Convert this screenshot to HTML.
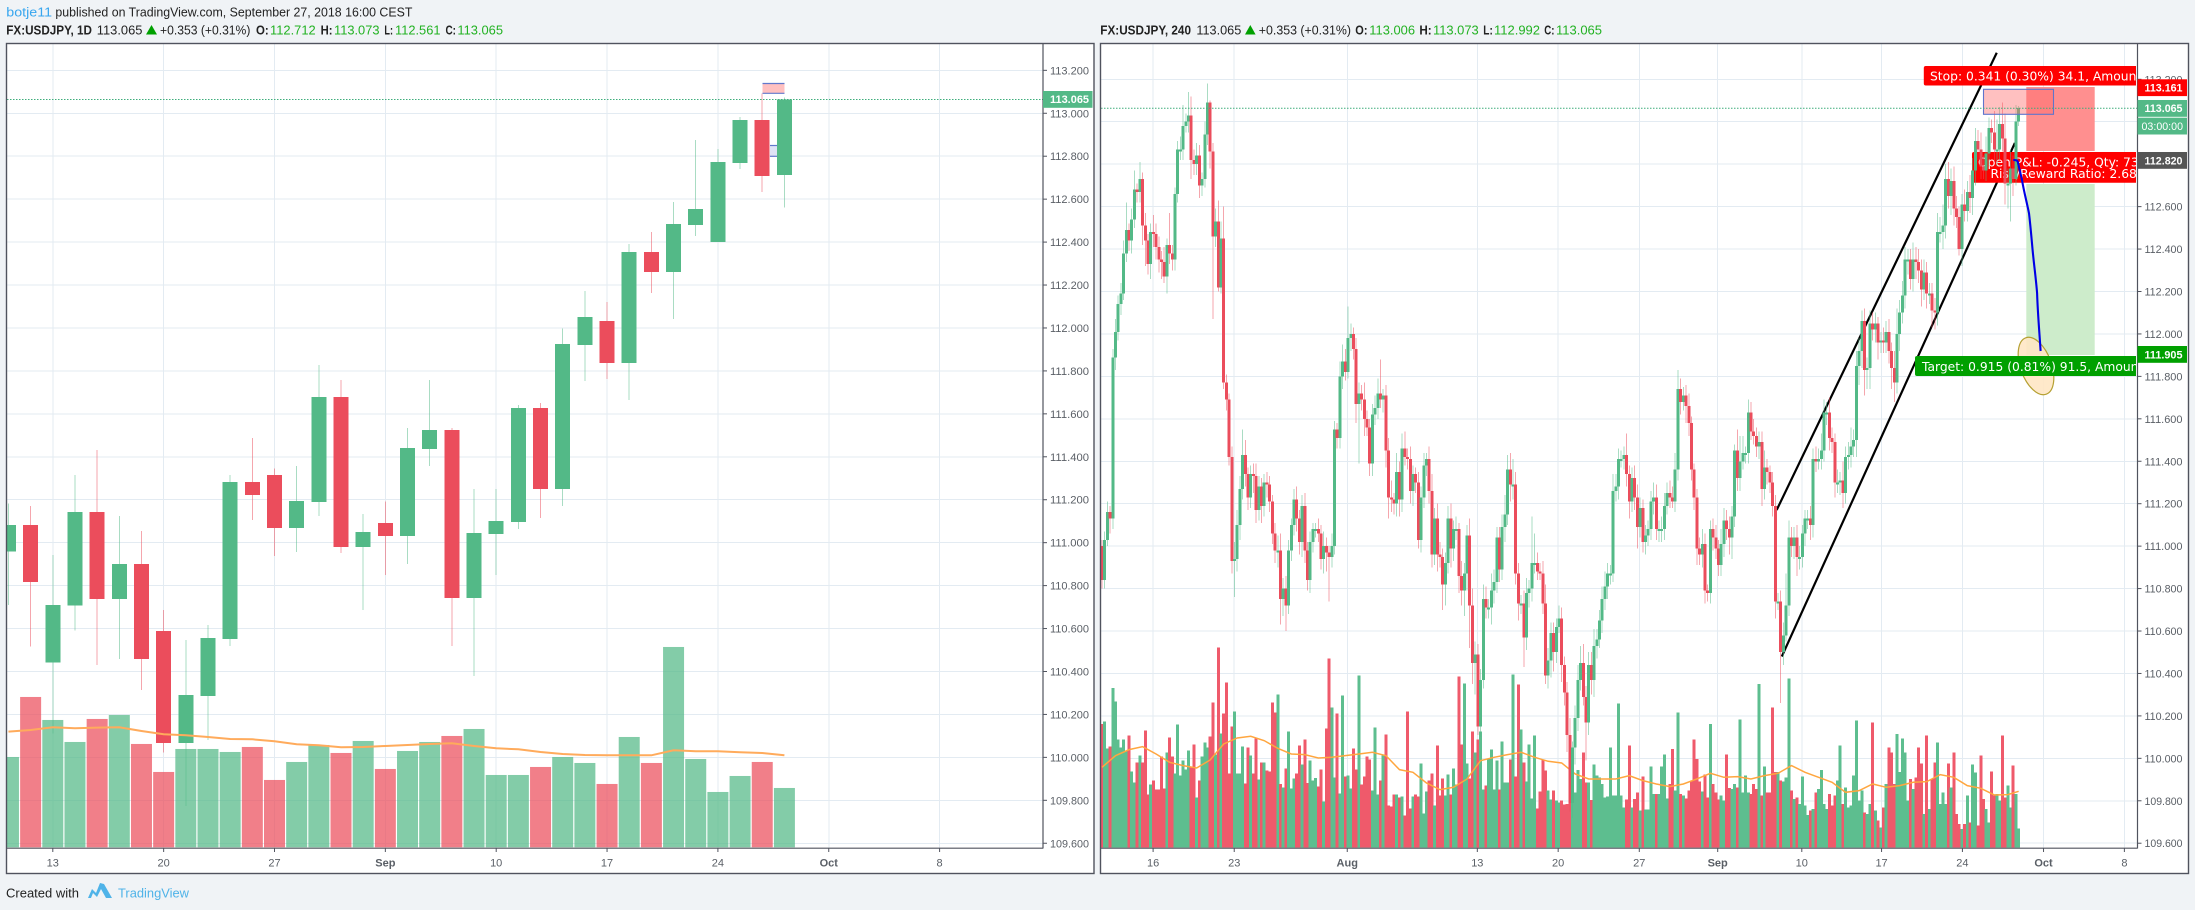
<!DOCTYPE html>
<html lang="en">
<head>
<meta charset="utf-8">
<title>USDJPY charts</title>
<style>
html,body{margin:0;padding:0;background:#f0f3f6;width:2195px;height:910px;overflow:hidden}
svg{display:block}
text{font-family:"Liberation Sans",sans-serif}
</style>
</head>
<body>
<svg id="root" xmlns="http://www.w3.org/2000/svg" width="2195" height="910" viewBox="0 0 2195 910">
<defs>
<clipPath id="clipL"><rect x="7" y="44" width="1036" height="803.5"/></clipPath>
<clipPath id="clipR"><rect x="1101" y="44" width="1036.5" height="803.5"/></clipPath>
<clipPath id="clipLabel"><rect x="1900" y="44" width="236" height="400"/></clipPath>
</defs>
<rect x="0" y="0" width="2195" height="910" fill="#f0f3f6"/>

<g font-size="13" fill="#222">
<text x="6.3" y="16.5" fill="#37a6ef" textLength="45.7" lengthAdjust="spacingAndGlyphs">botje11</text>
<text x="55.4" y="16.5" textLength="357" lengthAdjust="spacingAndGlyphs">published on TradingView.com, September 27, 2018 16:00 CEST</text>
<text x="6.3" y="34.5" font-weight="700" textLength="85.7" lengthAdjust="spacingAndGlyphs">FX:USDJPY, 1D</text>
<text x="96.8" y="34.5" textLength="45.6" lengthAdjust="spacingAndGlyphs">113.065</text>
<polygon points="146,34.5 157,34.5 151.5,25" fill="#00a000"/>
<text x="160" y="34.5" textLength="90.4" lengthAdjust="spacingAndGlyphs">+0.353 (+0.31%)</text>
<text x="256" y="34.5" font-weight="700" textLength="12.7" lengthAdjust="spacingAndGlyphs">O:</text>
<text x="270" y="34.5" fill="#22b222" textLength="45.7" lengthAdjust="spacingAndGlyphs">112.712</text>
<text x="320.6" y="34.5" font-weight="700" textLength="11.9" lengthAdjust="spacingAndGlyphs">H:</text>
<text x="334" y="34.5" fill="#22b222" textLength="45.5" lengthAdjust="spacingAndGlyphs">113.073</text>
<text x="384.4" y="34.5" font-weight="700" textLength="8.6" lengthAdjust="spacingAndGlyphs">L:</text>
<text x="395" y="34.5" fill="#22b222" textLength="45.5" lengthAdjust="spacingAndGlyphs">112.561</text>
<text x="445.5" y="34.5" font-weight="700" textLength="10.5" lengthAdjust="spacingAndGlyphs">C:</text>
<text x="457.4" y="34.5" fill="#22b222" textLength="45.6" lengthAdjust="spacingAndGlyphs">113.065</text>
</g>

<g font-size="13" fill="#222">
<text x="1100.3" y="34.5" font-weight="700" textLength="90.7" lengthAdjust="spacingAndGlyphs">FX:USDJPY, 240</text>
<text x="1196.4" y="34.5" textLength="44.9" lengthAdjust="spacingAndGlyphs">113.065</text>
<polygon points="1245,34.5 1255.6,34.5 1250.3,25" fill="#00a000"/>
<text x="1258.8" y="34.5" textLength="92.2" lengthAdjust="spacingAndGlyphs">+0.353 (+0.31%)</text>
<text x="1355.3" y="34.5" font-weight="700" textLength="12.2" lengthAdjust="spacingAndGlyphs">O:</text>
<text x="1369.3" y="34.5" fill="#22b222" textLength="45.7" lengthAdjust="spacingAndGlyphs">113.006</text>
<text x="1419.4" y="34.5" font-weight="700" textLength="12.3" lengthAdjust="spacingAndGlyphs">H:</text>
<text x="1433" y="34.5" fill="#22b222" textLength="45.7" lengthAdjust="spacingAndGlyphs">113.073</text>
<text x="1483.3" y="34.5" font-weight="700" textLength="9.5" lengthAdjust="spacingAndGlyphs">L:</text>
<text x="1494" y="34.5" fill="#22b222" textLength="46" lengthAdjust="spacingAndGlyphs">112.992</text>
<text x="1544.3" y="34.5" font-weight="700" textLength="10.2" lengthAdjust="spacingAndGlyphs">C:</text>
<text x="1556" y="34.5" fill="#22b222" textLength="46" lengthAdjust="spacingAndGlyphs">113.065</text>
</g>

<rect x="6.5" y="43.5" width="1087.5" height="830" fill="#fff"/>
<rect x="1100.5" y="43.5" width="1088" height="830" fill="#fff"/>

<g id="leftGrid" shape-rendering="crispEdges"></g>
<g id="rightGrid" shape-rendering="crispEdges"></g>

<g clip-path="url(#clipL)">
  <g id="leftVolume"></g>
  <g id="leftMarkers">
    <rect x="770" y="145.5" width="15" height="11" fill="#dfe3f6"/>
    <line x1="770" x2="785" y1="145.5" y2="145.5" stroke="#6278cc" stroke-width="1.2"/>
    <line x1="770" x2="785" y1="156.3" y2="156.3" stroke="#6278cc" stroke-width="1.2"/>
  </g>
  <g id="leftWicks" shape-rendering="crispEdges"></g>
  <g id="leftCandles" shape-rendering="crispEdges"></g>
  <polyline id="leftMA" fill="none" stroke="#ffab5c" stroke-width="2"/>
  <rect x="762.5" y="83.5" width="22" height="10" fill="#ffc0c0"/>
  <line x1="762.5" x2="784.5" y1="83.5" y2="83.5" stroke="#6278cc" stroke-width="1.2"/>
  <line x1="762.5" x2="784.5" y1="93.3" y2="93.3" stroke="#6278cc" stroke-width="1.2"/>
  <line x1="7" x2="1043" y1="99.5" y2="99.5" stroke="#3fae7c" stroke-width="1" stroke-dasharray="1.5 1.5"/>
</g>

<g clip-path="url(#clipR)">
  <g id="rightVolume" shape-rendering="crispEdges"></g>
  <polyline id="rightMA" fill="none" stroke="#ffa63f" stroke-width="1.5"/>
  <rect x="2026.3" y="87" width="68.4" height="64" fill="#ff8f8f"/>
  <rect x="2026.3" y="184" width="68.4" height="171" fill="#cdeccb"/>
  <g id="trendlines"></g>
  <ellipse cx="2036" cy="366" rx="15.5" ry="30" transform="rotate(-20 2036 366)" fill="#ffe7c4" fill-opacity=".9" stroke="#b5a032" stroke-width="1.2"/>
  <g clip-path="url(#clipLabel)">
    <rect x="1923.8" y="66" width="260" height="19.5" rx="2" fill="#f00"/>
    <text x="1930" y="80.5" fill="#fff" style='font-family:"DejaVu Sans",sans-serif' font-size="12.3">Stop: 0.341 (0.30%) 34.1, Amount: 100</text>
    <rect x="1972" y="152" width="220" height="30.7" rx="2" fill="#f00"/>
    <text x="1978" y="166.3" fill="#fff" style='font-family:"DejaVu Sans",sans-serif' font-size="12.3">Open P&amp;L: -0.245, Qty: 73</text>
    <text x="1990.5" y="178" fill="#fff" style='font-family:"DejaVu Sans",sans-serif' font-size="12.3">Risk/Reward Ratio: 2.68</text>
    <rect x="1915" y="356" width="260" height="20" rx="2" fill="#00a000"/>
    <text x="1922" y="370.8" fill="#fff" style='font-family:"DejaVu Sans",sans-serif' font-size="12.3">Target: 0.915 (0.81%) 91.5, Amount: 100</text>
  </g>
  <g id="rightWicks" shape-rendering="crispEdges"></g>
  <g id="rightCandles" shape-rendering="crispEdges"></g>
  <rect x="1983.5" y="89.3" width="70" height="25" fill="#ff6a6a" fill-opacity=".42" stroke="#5f74cc" stroke-width="1.1"/>
  <line x1="1101" x2="2137" y1="108.3" y2="108.3" stroke="#3fae7c" stroke-width="1" stroke-dasharray="1.5 1.5"/>
  <path d="M2013.3 160 C2016 160 2017 160 2017.8 161.7 C2019 168 2021 175 2022 180 C2024 192 2027 203 2029 213.3 C2030.5 226 2031.5 238 2032.6 250 C2034 265 2036 279 2037.1 293.3 C2037.8 315 2039.5 333 2040.6 351" fill="none" stroke="#0000e6" stroke-width="2.1"/>
</g>

<g id="leftAxis"></g>
<g id="rightAxis"></g>

<g font-weight="700" fill="#fff" font-size="11">
  <rect x="1043" y="91" width="49.5" height="16.8" fill="#53b987"/>
  <text x="1050" y="103.2" textLength="39" lengthAdjust="spacingAndGlyphs">113.065</text>
</g>
<g font-weight="700" fill="#fff" font-size="11">
  <rect x="2137.5" y="79.3" width="49.5" height="16.8" fill="#f00"/>
  <text x="2144.5" y="91.5" textLength="38" lengthAdjust="spacingAndGlyphs">113.161</text>
  <rect x="2137.5" y="100" width="49.5" height="16.8" fill="#53b987"/>
  <text x="2144.5" y="112.2" textLength="38" lengthAdjust="spacingAndGlyphs">113.065</text>
  <rect x="2137.5" y="117.7" width="49.5" height="16.8" fill="#53b987"/>
  <text x="2141.5" y="130" textLength="41.5" lengthAdjust="spacingAndGlyphs" font-weight="400">03:00:00</text>
  <rect x="2137.5" y="152" width="49.5" height="16.8" fill="#555"/>
  <text x="2144.5" y="164.3" textLength="38" lengthAdjust="spacingAndGlyphs">112.820</text>
  <rect x="2137.5" y="346" width="49.5" height="16.8" fill="#00a000"/>
  <text x="2144.5" y="358.3" textLength="38" lengthAdjust="spacingAndGlyphs">111.905</text>
</g>

<rect x="6.5" y="43.5" width="1087.5" height="830" fill="none" stroke="#50535e" stroke-width="1.4"/>
<rect x="1100.5" y="43.5" width="1088" height="830" fill="none" stroke="#50535e" stroke-width="1.4"/>

<g>
  <text x="6" y="897.5" font-size="13" fill="#222" textLength="73" lengthAdjust="spacingAndGlyphs">Created with</text>
  <path d="M88 898 L92 889 L96 893 L100 883 L104 884 L112 898 L106 898 L101 889 L97 897 L93 893 L91 898 Z" fill="#4fb3e8"/>
  <text x="118" y="897.5" font-size="13" fill="#4fb3e8" textLength="71" lengthAdjust="spacingAndGlyphs">TradingView</text>
</g>
</svg>

<script>
/* ---- shared axis values ---- */
const priceTicks = [113.2,113.0,112.8,112.6,112.4,112.2,112.0,111.8,111.6,111.4,111.2,111.0,110.8,110.6,110.4,110.2,110.0,109.8,109.6];

/* ---- left chart (1D) ---- */
const leftTickLabels = ["13","20","27","Sep","10","17","24","Oct","8"];
const leftTickBars = [0,5,10,15,20,25,30,35,40];
const leftFirstBar = -2;
const leftOpen = [110.958,111.082,110.441,110.707,111.143,110.738,110.901,110.589,110.068,110.286,110.552,111.283,111.315,111.068,111.189,111.678,110.98,111.092,111.031,111.436,111.525,110.742,111.04,111.096,111.627,111.25,111.921,112.032,111.837,112.354,112.261,112.48,112.4,112.768,112.969,112.712];
const leftClose = [111.082,110.817,110.71,111.143,110.738,110.901,110.458,110.068,110.29,110.556,111.283,111.222,111.068,111.194,111.678,110.98,111.05,111.031,111.441,111.525,110.742,111.045,111.101,111.627,111.25,111.925,112.051,111.837,112.354,112.261,112.484,112.554,112.773,112.969,112.708,113.065];
const leftHigh = [111.183,111.171,110.943,111.315,111.432,111.124,111.054,110.686,110.547,110.617,111.315,111.488,111.346,111.357,111.828,111.758,111.134,111.191,111.534,111.758,111.534,111.25,111.25,111.641,111.651,111.998,112.172,112.121,112.391,112.447,112.587,112.876,112.834,112.983,113.093,113.073];
const leftLow = [110.71,110.516,110.112,110.59,110.43,110.458,110.314,110.022,109.774,110.081,110.519,111.106,110.938,110.957,111.124,110.952,110.686,110.849,110.901,111.357,110.519,110.379,110.849,111.064,111.115,111.171,111.753,111.762,111.665,112.163,112.042,112.428,112.4,112.74,112.633,112.561];
const leftVolume = [271,451,382,316,385,397,310,226,295,295,286,301,202,256,307,283,319,235,289,316,334,355,217,217,241,271,253,190,331,253,601,265,166,214,256,178];
const leftVolumeAvg = [347,352,360,357,359,360,349,339,336,331,325,324,318,309,306,300,301,304,307,310,312,304,297,294,286,280,277,276,276,276,291,288,288,285,283,276];

/* ---- right chart (240) ---- */
const rightTickLabels = ["16","23","Aug","13","20","27","Sep","10","17","24","Oct","8"];
const rightTickBars = [18.9,48.9,90.7,138.8,168.7,198.7,227.7,258.8,288.3,318.2,348.2,378.1];
const rightFirstOpen = 111.0;
const rightClose = [
110.84,111.03,111.16,111.13,111.89,112.01,112.14,112.19,112.38,112.49,
112.44,112.54,112.68,112.67,112.73,112.51,112.44,112.33,112.48,112.47,
112.41,112.35,112.34,112.27,112.42,112.38,112.35,112.66,112.87,112.87,
112.98,113.00,113.03,112.82,112.80,112.84,112.70,112.73,112.94,113.09,
112.86,112.46,112.53,112.22,112.45,111.77,111.69,111.42,110.93,110.94,
111.10,111.27,111.43,111.34,111.23,111.34,111.33,111.17,111.28,111.19,
111.30,111.29,111.21,111.06,110.98,110.98,110.75,110.80,110.72,110.98,
111.10,111.22,111.13,111.02,111.19,110.98,110.84,111.02,111.08,111.08,
111.06,110.94,111.00,110.97,110.95,111.00,111.55,111.51,111.80,111.87,
111.82,111.98,112.00,111.93,111.67,111.72,111.69,111.60,111.56,111.39,
111.62,111.65,111.72,111.69,111.71,111.45,111.23,111.22,111.20,111.35,
111.22,111.46,111.42,111.41,111.26,111.34,111.30,111.03,111.23,111.38,
111.41,111.26,110.96,111.13,110.96,110.95,110.82,110.92,111.13,110.99,
111.08,111.08,110.86,110.79,110.87,111.05,110.72,110.45,110.49,110.15,
110.37,110.75,110.71,110.71,110.79,110.83,111.04,110.89,111.09,111.15,
111.36,111.29,111.29,110.87,110.73,110.73,110.57,110.78,110.80,110.92,
110.92,110.88,110.87,110.73,110.39,110.46,110.59,110.50,110.62,110.66,
110.44,110.31,110.11,109.79,110.05,110.19,110.37,110.45,110.29,110.17,
110.44,110.37,110.53,110.56,110.65,110.75,110.81,110.87,110.87,111.26,
111.28,111.41,111.41,111.43,111.34,111.21,111.32,111.23,111.09,111.18,
111.02,111.05,111.08,111.21,111.23,111.08,111.08,111.08,111.19,111.25,
111.23,111.21,111.36,111.74,111.68,111.71,111.66,111.58,111.36,111.23,
110.99,110.96,111.01,110.79,110.78,111.08,111.04,110.99,110.91,111.01,
111.12,111.08,111.04,111.14,111.45,111.32,111.40,111.44,111.44,111.63,
111.54,111.52,111.47,111.49,111.27,111.37,111.35,111.30,111.19,110.74,
110.74,110.50,110.58,110.72,111.04,111.00,111.04,110.95,110.95,111.06,
111.13,111.13,111.10,111.41,111.40,111.41,111.45,111.63,111.63,111.51,
111.49,111.30,111.30,111.31,111.25,111.42,111.43,111.47,111.50,111.85,
111.92,112.06,111.83,111.84,112.05,112.02,112.05,111.96,111.97,111.96,
112.01,111.92,111.84,111.77,112.00,112.10,112.18,112.35,112.35,112.26,
112.35,112.34,112.30,112.21,112.29,112.19,112.19,112.11,112.10,112.48,
112.48,112.51,112.73,112.65,112.72,112.59,112.55,112.40,112.61,112.58,
112.67,112.64,112.77,112.91,112.87,112.79,112.77,112.85,112.97,112.95,
112.87,112.87,112.99,112.92,112.71,112.71,112.78,112.73,113.00,113.065];
const rightWickUpPips = [
3,4,5,3,4,6,4,5,6,13, 3,5,9,3,8,3,6,3,4,8, 5,5,4,7,3,15,4,3,4,6, 10,4,11,9,5,6,5,3,6,9,
1,4,6,10,8,15,4,3,5,8, 7,6,12,7,3,4,5,6,5,4, 4,5,4,3,5,7,8,5,6,5, 3,5,6,4,5,6,4,5,3,3,
5,4,7,4,3,6,4,3,7,8, 6,15,5,3,5,5,4,8,4,4, 5,6,7,16,3,5,6,8,3,9, 5,7,8,4,6,4,3,5,5,6,
3,6,8,5,7,6,4,5,6,7, 4,6,3,7,5,5,8,8,6,5, 5,7,6,4,8,6,5,5,6,9, 7,8,12,6,5,4,6,7,4,22,
14,5,4,6,9,6,5,5,4,6, 5,4,5,8,3,6,7,8,9,5, 6,6,8,5,5,6,7,5,4,8, 6,5,4,4,10,4,5,6,6,5,
4,5,4,5,7,6,4,6,6,5, 6,5,8,9,5,4,5,6,3,3, 4,5,7,5,3,4,5,6,4,7, 6,5,6,5,3,10,12,8,3,6,
5,6,4,5,5,8,4,3,5,5, 4,5,6,15,8,5,5,6,5,4, 4,4,6,5,6,5,8,6,5,7, 5,4,6,4,9,5,6,9,5,7,
6,5,6,5,6,5,5,3,4,6, 5,6,4,8,12,6,7,6,5,5, 8,6,6,5,6,5,5,5,6,9, 7,10,7,8,6,7,6,5,5,7,
5,8,6,6,5,8,5,8,5,4, 10,14,8,10,12,7,9,6,8,1];
const rightWickDownPips = [
4,4,3,7,5,6,4,5,3,4, 5,6,4,5,5,9,12,5,7,6, 6,6,8,3,8,5,5,5,4,5, 5,3,5,9,5,5,6,5,4,5,
8,39,5,2,3,3,5,4,6,17, 6,7,5,6,6,5,8,6,5,8, 5,6,5,5,6,8,12,8,12,4, 5,5,6,6,7,6,5,6,5,4,
4,5,7,9,21,5,4,5,5,6, 4,3,6,5,9,28,5,8,4,6, 6,5,5,4,6,8,10,6,5,6, 8,6,4,5,6,7,5,4,6,5,
5,6,6,5,8,5,12,10,5,9, 6,5,8,7,12,8,20,10,15,4, 5,4,5,5,8,6,5,6,5,7, 5,8,7,5,8,5,14,6,7,6,
5,4,3,5,4,6,8,9,5,3, 8,6,8,4,7,8,6,5,4,18, 6,7,8,6,4,6,5,6,5,4, 5,6,4,5,6,8,5,6,10,5,
5,6,5,5,6,5,6,6,5,4, 5,3,5,5,6,4,8,6,5,6, 8,5,6,6,4,5,6,5,5,5, 6,5,8,10,5,6,6,4,5,5,
4,4,5,6,8,5,6,5,5,8, 4,24,6,3,5,5,6,9,6,5, 6,5,7,6,5,4,5,5,6,6, 5,7,5,6,7,5,6,6,5,8,
9,8,12,9,10,5,6,8,5,5, 5,6,10,9,5,8,5,6,7,5, 6,8,6,8,5,7,5,8,8,6, 5,8,6,6,9,8,5,3,8,5,
5,7,8,7,5,6,4,5,6,5, 6,8,5,6,10,12,18,8,3,2];
const rightVolume = [
370,377,297,302,478,437,323,300,323,290, 335,227,194,254,275,254,350,158,188,200,
173,173,272,176,284,329,272,221,368,215, 260,233,290,242,308,149,200,272,314,299,
332,434,278,599,341,401,494,221,362,407, 221,222,302,191,299,275,221,326,203,254,
254,230,227,434,404,458,190,180,236,347, 176,206,221,305,248,323,193,260,200,208,
182,233,137,356,566,419,209,401,161,455, 212,215,176,296,233,515,188,212,272,263,
170,359,158,200,275,338,125,122,158,158, 149,152,95,407,116,152,158,152,251,101,
167,200,222,125,305,155,206,155,218,158, 236,188,512,308,491,251,206,347,284,323,
347,173,185,266,293,173,260,173,317,194, 194,263,518,212,488,353,254,197,308,146,
335,116,167,263,230,170,143,170,140,135, 140,128,130,135,170,165,232,205,284,195,
195,142,248,215,210,190,150,152,300,155, 155,432,155,120,143,305,120,145,165,110,
212,113,113,242,160,160,160,242,278,147, 190,295,170,404,160,155,146,170,200,323,
265,198,168,218,150,370,190,165,143,155, 140,278,178,175,190,180,383,165,215,165,
160,190,175,490,155,242,165,165,420,226, 226,200,197,209,506,170,145,150,130,212,
125,97,110,115,165,175,232,130,115,160, 125,155,200,305,130,180,120,125,215,380,
140,170,105,100,130,374,110,80,60,120, 190,300,285,190,340,226,326,285,140,205,
175,210,300,252,100,335,115,205,255,314, 130,165,130,252,180,285,100,70,55,70,
155,75,248,225,65,275,145,115,75,227, 155,160,140,335,150,185,120,245,160,56];
const rightVolumeAvgEvery5Bars = [240,275,293,302,280,255,245,238,262,310,328,333,320,297,280,278,268,270,275,280,285,275,233,225,193,173,180,205,260,270,278,285,270,258,253,220,205,205,205,215,200,190,182,190,205,222,210,212,205,215,222,245,225,210,195,165,170,190,180,185,195,197,218,210,185,177,157,158,168];
const channelUpperBars = [249.5,330.9];
const channelUpperPrices = [111.17,113.325];
const channelLowerBars = [251.4,337.6];
const channelLowerPrices = [110.48,112.9];

/* ---- scales ---- */
const xL = i => 52.8 + 22.17 * i;
const yL = p => 70.33 + (113.2 - p) * 214.7;
const xR = i => 1102 + 2.704 * i;
const yR = p => 79.3 + (113.2 - p) * 212.2;
const volBase = 847.3;
const volH = v => v / 3;

const NS = 'http://www.w3.org/2000/svg';
const UP = '#53b987', DOWN = '#eb4d5c';
function mk(tag, attrs, parent) {
  const el = document.createElementNS(NS, tag);
  for (const k in attrs) el.setAttribute(k, attrs[k]);
  parent.appendChild(el);
  return el;
}
const $ = id => document.getElementById(id);

/* ---- grid and axes ---- */
function drawAxes(gridHost, axisHost, plotLeft, plotRight, yFn, xFn, tickBars, tickLabels, labelX, labelLen) {
  priceTicks.forEach(p => {
    const y = yFn(p);
    const g = mk('line', {x1: plotLeft, x2: plotRight, y1: y, y2: y, stroke: '#e3ebf2', 'stroke-width': 1}, gridHost);
    
    
    const tk = mk('line', {x1: plotRight, x2: plotRight + 4, y1: y, y2: y, stroke: '#50535e', 'stroke-width': 1}, axisHost);
    
    
    const t = mk('text', {x: labelX, y: y + 4, 'font-size': 11, fill: '#5a5f66', textLength: labelLen, lengthAdjust: 'spacingAndGlyphs'}, axisHost);
    
    
    t.textContent = p.toFixed(3);
  });
  tickBars.forEach((b, k) => {
    const x = xFn(b);
    const g = mk('line', {x1: x, x2: x, y1: 44, y2: 847.5, stroke: '#e3ebf2', 'stroke-width': 1}, gridHost);
    
    
    const tk = mk('line', {x1: x, x2: x, y1: 848.2, y2: 852, stroke: '#50535e', 'stroke-width': 1}, axisHost);
    
    
    const label = tickLabels[k];
    const month = label.length === 3;
    const t = mk('text', {x: x, y: 866.5, 'font-size': 11, fill: '#5a5f66', 'text-anchor': 'middle', 'font-weight': month ? 700 : 400}, axisHost);
    
    
    t.textContent = label;
  });
  const vs = mk('line', {x1: plotRight, x2: plotRight, y1: 44, y2: 848.5, stroke: '#50535e', 'stroke-width': 1.2}, axisHost);
  
  
  const hs = mk('line', {x1: plotLeft, x2: plotRight, y1: 848.2, y2: 848.2, stroke: '#50535e', 'stroke-width': 1.2}, axisHost);
  
  
}
drawAxes($('leftGrid'), $('leftAxis'), 7, 1043, yL, xL, leftTickBars, leftTickLabels, 1050, 39);
drawAxes($('rightGrid'), $('rightAxis'), 1101, 2137.5, yR, xR, rightTickBars, rightTickLabels, 2144.5, 38);

/* ---- left volume ---- */
leftVolume.forEach((v, k) => {
  const i = k + leftFirstBar;
  const up = leftClose[k] >= leftOpen[k];
  const h = volH(v);
  const r = mk('rect', {x: xL(i) - 10.5, y: volBase - h, width: 21, height: h, fill: up ? UP : DOWN, 'fill-opacity': .72}, $('leftVolume'));
  
  
});

/* ---- left candles ---- */
leftClose.forEach((c, k) => {
  const i = k + leftFirstBar;
  const o = leftOpen[k];
  const col = c >= o ? UP : DOWN;
  const x = xL(i);
  const w = mk('line', {x1: x, x2: x, y1: yL(leftHigh[k]), y2: yL(leftLow[k]), stroke: col, 'stroke-opacity': .5, 'stroke-width': 1}, $('leftWicks'));
  
  
  const top = yL(Math.max(o, c));
  const b = mk('rect', {x: x - 7.5, y: top, width: 15, height: Math.max(1, yL(Math.min(o, c)) - top), fill: col}, $('leftCandles'));
  
  
});
$('leftMA').setAttribute('points', leftVolumeAvg.map((v, k) => xL(k + leftFirstBar) + ',' + (volBase - volH(v))).join(' '));

/* ---- right volume ---- */
rightVolume.forEach((v, i) => {
  const o = i === 0 ? rightFirstOpen : rightClose[i - 1];
  const up = rightClose[i] >= o;
  const h = volH(v);
  const r = mk('rect', {x: xR(i) - 1.5, y: volBase - h, width: 3, height: h, fill: up ? '#5dbe8f' : '#ef5a6b'}, $('rightVolume'));
  
  
});
$('rightMA').setAttribute('points', rightVolumeAvgEvery5Bars.map((v, k) => xR(Math.min(k * 5, rightClose.length - 1)) + ',' + (volBase - volH(v))).join(' '));

/* ---- right trendlines ---- */
[[channelUpperBars, channelUpperPrices], [channelLowerBars, channelLowerPrices]].forEach(pair => {
  const l = mk('line', {x1: xR(pair[0][0]), x2: xR(pair[0][1]), y1: yR(pair[1][0]), y2: yR(pair[1][1]), stroke: '#000', 'stroke-width': 2.2}, $('trendlines'));
  
  
});

/* ---- right candles ---- */
rightClose.forEach((c, i) => {
  const o = i === 0 ? rightFirstOpen : rightClose[i - 1];
  const col = c >= o ? UP : DOWN;
  const x = xR(i);
  const hi = Math.max(o, c) + rightWickUpPips[i] / 100;
  const lo = Math.min(o, c) - rightWickDownPips[i] / 100;
  const w = mk('line', {x1: x, x2: x, y1: yR(hi), y2: yR(lo), stroke: col, 'stroke-opacity': .5, 'stroke-width': 1}, $('rightWicks'));
  
  
  const top = yR(Math.max(o, c));
  const b = mk('rect', {x: x - 1.5, y: top, width: 3, height: Math.max(2, yR(Math.min(o, c)) - top), fill: col}, $('rightCandles'));
  
  
});
</script>
</body>
</html>
